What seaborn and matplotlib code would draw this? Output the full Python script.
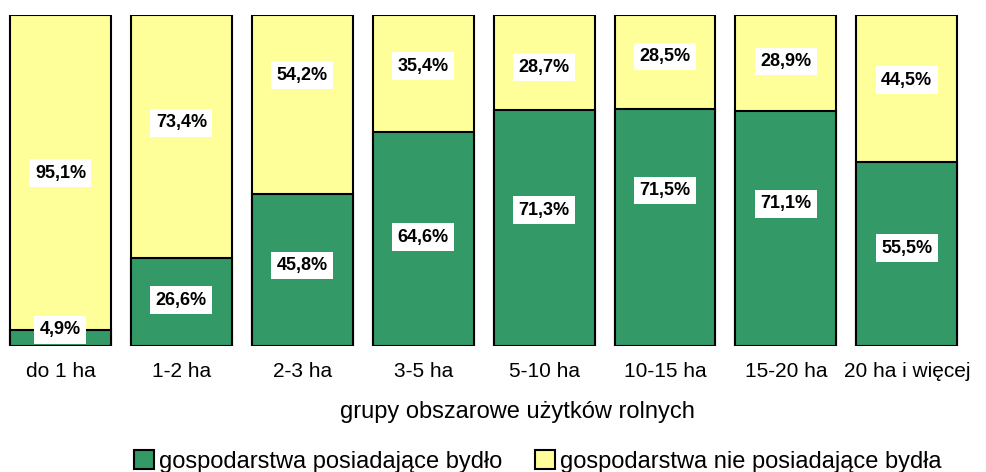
import matplotlib
matplotlib.use("Agg")
import matplotlib.pyplot as plt
import seaborn as sns
import pandas as pd
from matplotlib.patches import Patch

# ---- data ----
categories = ["do 1 ha", "1-2 ha", "2-3 ha", "3-5 ha", "5-10 ha", "10-15 ha", "15-20 ha", "20 ha i więcej"]
with_cattle = [4.9, 26.6, 45.8, 64.6, 71.3, 71.5, 71.1, 55.5]
without_cattle = [95.1, 73.4, 54.2, 35.4, 28.7, 28.5, 28.9, 44.5]
series_names = ["gospodarstwa posiadające bydło", "gospodarstwa nie posiadające bydła"]
x_title = "grupy obszarowe użytków rolnych"

# ---- layout (label anchor heights, in data units) ----
label_y_green = [4.9, 13.8, 24.3, 32.9, 41.0, 47.0, 43.0, 29.5]
label_y_yellow = [52.2, 67.4, 81.8, 84.5, 84.3, 87.5, 86.0, 80.3]

GREEN = "#339966"
YELLOW = "#FFFF99"

sns.set_theme(style="white")
plt.rcParams["font.family"] = ["Liberation Sans", "DejaVu Sans"]
plt.rcParams["text.color"] = "black"
plt.rcParams["axes.labelcolor"] = "black"

df = pd.DataFrame({
    "grupa": categories,
    "with": with_cattle,
    "total": [a + b for a, b in zip(with_cattle, without_cattle)],
})

fig = plt.figure(figsize=(9.86, 4.72), dpi=100)
ax = fig.add_axes([0.0, 0.267, 0.981, 0.701])

sns.barplot(data=df, x="grupa", y="total", color=YELLOW, saturation=1,
            width=0.835, edgecolor="black", linewidth=1.5, ax=ax)
sns.barplot(data=df, x="grupa", y="with", color=GREEN, saturation=1,
            width=0.835, edgecolor="black", linewidth=1.5, ax=ax)

ax.set_xlim(-0.5, len(categories) - 0.5)
ax.set_ylim(0, 100)
for s in ax.spines.values():
    s.set_visible(False)
ax.set_yticks([])
ax.set_ylabel("")
ax.tick_params(axis="x", length=0, pad=11.5, labelsize=15, colors="black")
ax.set_xlabel(x_title, fontsize=17, color="black")
ax.xaxis.set_label_coords(0.535, -0.166)

box = dict(boxstyle="square,pad=0.3", facecolor="white", edgecolor="none")
fmt = lambda v: f"{v:.1f}%".replace(".", ",")
for i in range(len(categories)):
    ax.text(i, label_y_green[i], fmt(with_cattle[i]), ha="center", va="center",
            fontsize=13, fontweight="bold", color="black", bbox=box, zorder=5)
    ax.text(i, label_y_yellow[i], fmt(without_cattle[i]), ha="center", va="center",
            fontsize=13, fontweight="bold", color="black", bbox=box, zorder=5)

handles = [Patch(facecolor=GREEN, edgecolor="black", linewidth=1.5),
           Patch(facecolor=YELLOW, edgecolor="black", linewidth=1.5)]
fig.legend(handles, series_names, loc="center", bbox_to_anchor=(538 / 986, 0.022),
           ncol=2, frameon=False, fontsize=17, handlelength=0.85, handleheight=0.85,
           handletextpad=0.2, columnspacing=1.4, borderaxespad=0, borderpad=0,
           labelcolor="black")

fig.savefig("out.png", dpi=100)
